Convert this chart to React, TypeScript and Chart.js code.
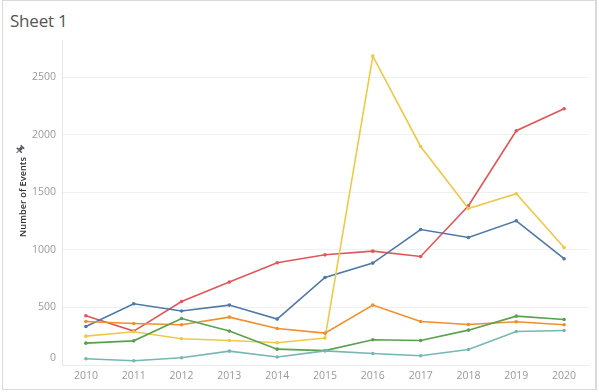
import React, { useEffect, useRef } from "react";
import { Chart, registerables } from "chart.js";

Chart.register(...registerables);

const years = ["2010", "2011", "2012", "2013", "2014", "2015", "2016", "2017", "2018", "2019", "2020"];
const redSeries = [428, 295, 552, 721, 889, 958, 990, 944, 1385, 2037, 2228];
const blueSeries = [335, 532, 469, 521, 399, 761, 886, 1178, 1109, 1254, 924];
const orangeSeries = [378, 361, 350, 416, 317, 277, 521, 378, 352, 376, 350];
const yellowSeries = [251, 289, 228, 213, 193, 234, 2686, 1900, 1361, 1489, 1022];
const greenSeries = [190, 210, 404, 295, 138, 125, 219, 213, 303, 425, 396];
const tealSeries = [54, 37, 63, 121, 69, 123, 100, 80, 135, 291, 300];
const yTicks = [0, 500, 1000, 1500, 2000, 2500];

const FONT = "'Open Sans', 'DejaVu Sans', sans-serif";

export default function App() {
  const ref = useRef<HTMLCanvasElement | null>(null);
  useEffect(() => {
    document.body.style.margin = "0";
    const ds = (data: number[], color: string) => ({
      data,
      borderColor: color,
      backgroundColor: color,
      borderWidth: 1.6,
      pointRadius: 1.8,
      pointHoverRadius: 1.8,
      pointBorderWidth: 0,
      tension: 0,
    });
    const overlay = {
      id: "overlay",
      afterDraw(chart: any) {
        const ctx = chart.ctx;
        ctx.save();
        // y axis title
        ctx.translate(23, 197);
        ctx.rotate(-Math.PI / 2);
        ctx.fillStyle = "#333333";
        ctx.font = `600 9.2px ${FONT}`;
        ctx.textAlign = "center";
        ctx.textBaseline = "middle";
        ctx.fillText("Number of Events", 0, 0);
        ctx.restore();
        // pin icon
        ctx.save();
        ctx.translate(20.5, 149);
        ctx.rotate(Math.PI / 4);
        ctx.fillStyle = "#4a5360";
        ctx.strokeStyle = "#4a5360";
        ctx.fillRect(-2.5, -3.5, 5, 1.5);
        ctx.fillRect(-1.5, -2, 3, 3);
        ctx.fillRect(-3.5, 1, 7, 1.5);
        ctx.lineWidth = 1;
        ctx.beginPath();
        ctx.moveTo(0, 2.5);
        ctx.lineTo(0, 5.5);
        ctx.stroke();
        ctx.restore();
        // zero label shifted up like Tableau
        ctx.save();
        ctx.fillStyle = "#9a9a9a";
        ctx.font = `10.5px ${FONT}`;
        ctx.textAlign = "right";
        ctx.textBaseline = "middle";
        ctx.fillText("0", 56, 358);
        ctx.restore();
      },
    };
    const chart = new Chart(ref.current as HTMLCanvasElement, {
      type: "line",
      data: {
        labels: years,
        datasets: [
          ds(tealSeries, "#76b7b2"),
          ds(greenSeries, "#59a14f"),
          ds(orangeSeries, "#f28e2b"),
          ds(yellowSeries, "#edc948"),
          ds(blueSeries, "#4e79a7"),
          ds(redSeries, "#e15759"),
        ],
      },
      options: {
        animation: false,
        responsive: false,
        events: [],
        layout: { padding: { top: 40, right: 11, left: 0, bottom: 0 } },
        plugins: { legend: { display: false }, tooltip: { enabled: false }, title: { display: false } },
        scales: {
          x: {
            offset: true,
            grid: { display: false, drawTicks: false },
            border: { display: true, color: "#ececec", width: 1 },
            ticks: { color: "#9a9a9a", font: { family: FONT, size: 10.5 }, padding: 5, maxRotation: 0 },
            afterFit: (s: any) => { s.height = 27; },
          },
          y: {
            min: 0,
            max: 2826,
            grid: { color: "#f0f0f0", drawTicks: false, lineWidth: 1 },
            border: { display: true, color: "#e6e6e6" },
            ticks: {
              color: "#9a9a9a",
              font: { family: FONT, size: 10.5 },
              padding: 6,
              callback: (v: any) => (v === 0 ? "" : String(v)),
            },
            afterBuildTicks: (s: any) => {
              s.ticks = yTicks.map((v) => ({ value: v }));
            },
            afterFit: (s: any) => { s.width = 62; },
          },
        },
      },
      plugins: [overlay],
    });
    return () => chart.destroy();
  }, []);
  return (
    <div style={{ position: "relative", width: 599, height: 392, background: "#fff", overflow: "hidden" }}>
      <div style={{ position: "absolute", left: 2, top: 0, width: 592, height: 388, border: "1px solid #d9d9d9", borderRightWidth: 2, boxSizing: "content-box" }} />
      <div style={{ position: "absolute", left: 10, top: 9, fontFamily: FONT, fontSize: 17, color: "#555", fontWeight: 400, letterSpacing: -0.2 }}>Sheet 1</div>
      <canvas ref={ref} width={599} height={392} style={{ position: "absolute", left: 0, top: 0, display: "block" }} />
    </div>
  );
}
